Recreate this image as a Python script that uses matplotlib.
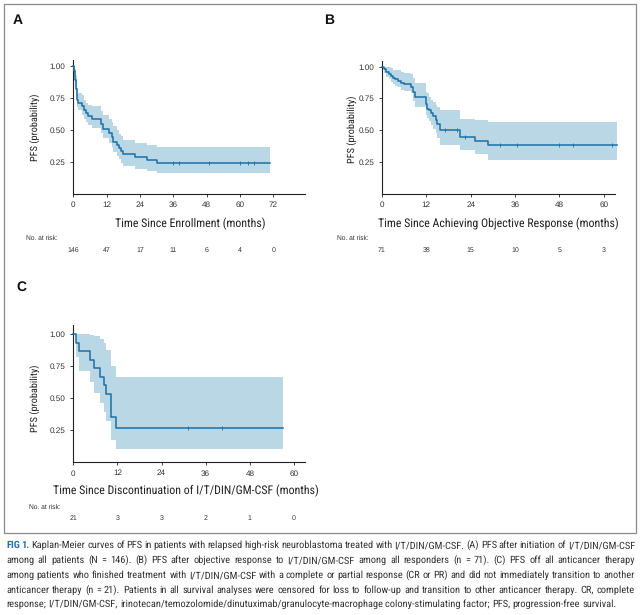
import matplotlib
matplotlib.use("Agg")
import matplotlib.pyplot as plt
from matplotlib import font_manager, transforms
from matplotlib.patches import Rectangle
from matplotlib.font_manager import FontProperties

# ---------------- data ----------------
# Panel A: PFS after initiation (N = 146)
times_A = [0, 0.25, 0.6, 1.0, 1.45, 1.8, 3.0, 3.8, 4.6, 5.4, 6.6, 9.8, 10.8, 13.0, 13.8,
           14.4, 15.6, 16.6, 17.0, 17.8, 22.2, 26.4, 30.3]
surv_A = [1.0, 0.96, 0.895, 0.82, 0.74, 0.715, 0.69, 0.66, 0.635, 0.61, 0.587, 0.55, 0.51,
          0.478, 0.446, 0.41, 0.386, 0.36, 0.335, 0.315, 0.288, 0.268, 0.245]
upper_A = [1.0, 1.0, 0.98, 0.93, 0.83, 0.79, 0.775, 0.74, 0.715, 0.70, 0.686, 0.65, 0.62,
           0.59, 0.56, 0.53, 0.50, 0.47, 0.45, 0.425, 0.40, 0.38, 0.365]
lower_A = [1.0, 0.92, 0.84, 0.76, 0.68, 0.655, 0.62, 0.59, 0.56, 0.54, 0.517, 0.48, 0.44,
           0.40, 0.37, 0.33, 0.30, 0.27, 0.24, 0.22, 0.195, 0.18, 0.165]
end_A = 70.8
censor_A = [36.0, 38.0, 49.0, 60.0, 63.0, 65.0]
ticks_A = [0, 12, 24, 36, 48, 60, 72]
risk_A = [146, 47, 17, 11, 6, 4, 0]

# Panel B: PFS after objective response (n = 71)
times_B = [0, 0.6, 1.2, 1.8, 2.4, 3.0, 3.6, 4.4, 5.2, 6.0, 7.8, 8.4, 9.0, 11.8, 12.2, 12.7,
           13.3, 13.9, 14.5, 15.0, 15.8, 21.1, 25.2, 28.7]
surv_B = [1.0, 0.985, 0.96, 0.945, 0.93, 0.915, 0.90, 0.885, 0.87, 0.865, 0.84, 0.80, 0.76,
          0.71, 0.67, 0.66, 0.635, 0.61, 0.58, 0.55, 0.50, 0.445, 0.415, 0.385]
upper_B = [1.0, 1.0, 1.0, 1.0, 0.99, 0.975, 0.975, 0.975, 0.96, 0.95, 0.945, 0.91, 0.875,
           0.80, 0.79, 0.76, 0.74, 0.725, 0.70, 0.68, 0.66, 0.585, 0.58, 0.565]
lower_B = [1.0, 0.95, 0.92, 0.90, 0.88, 0.86, 0.85, 0.84, 0.82, 0.81, 0.79, 0.73, 0.686,
           0.62, 0.595, 0.57, 0.543, 0.51, 0.48, 0.44, 0.386, 0.347, 0.31, 0.265]
end_B = 63.6
censor_B = [17.0, 20.4, 22.6, 32.0, 36.5, 47.8, 51.8, 62.3]
ticks_B = [0, 12, 24, 36, 48, 60]
risk_B = [71, 38, 15, 10, 5, 3]

# Panel C: PFS off all anticancer therapy (n = 21)
times_C = [0, 0.73, 1.6, 4.6, 5.7, 7.25, 8.4, 8.9, 10.2, 11.7]
surv_C = [1.0, 0.933, 0.867, 0.80, 0.733, 0.667, 0.60, 0.533, 0.356, 0.267]
upper_C = [1.0, 1.0, 1.0, 0.995, 0.99, 0.96, 0.93, 0.88, 0.75, 0.668]
lower_C = [1.0, 0.82, 0.71, 0.63, 0.54, 0.46, 0.39, 0.32, 0.17, 0.105]
end_C = 56.9
censor_C = [31.1, 40.3]
ticks_C = [0, 12, 24, 36, 48, 60]
risk_C = [21, 3, 3, 2, 1, 0]

yticks = [0.25, 0.50, 0.75, 1.00]
ytick_labels = ["0.25", "0.50", "0.75", "1.00"]

caption_lines = [
    "Kaplan-Meier curves of PFS in patients with relapsed high-risk neuroblastoma treated with I/T/DIN/GM-CSF. (A) PFS after initiation of I/T/DIN/GM-CSF",
    "among all patients (N = 146). (B) PFS after objective response to I/T/DIN/GM-CSF among all responders (n = 71). (C) PFS off all anticancer therapy",
    "among patients who finished treatment with I/T/DIN/GM-CSF with a complete or partial response (CR or PR) and did not immediately transition to another",
    "anticancer therapy (n = 21). Patients in all survival analyses were censored for loss to follow-up and transition to other anticancer therapy. CR, complete",
    "response; I/T/DIN/GM-CSF, irinotecan/temozolomide/dinutuximab/granulocyte-macrophage colony-stimulating factor; PFS, progression-free survival.",
]

# ---------------- fonts ----------------
names = {f.name for f in font_manager.fontManager.ttflist}
regular = "Liberation Sans" if "Liberation Sans" in names else "DejaVu Sans"
narrow = None
for cand in ["Liberation Sans Narrow", "Roboto Condensed", "DejaVu Sans Condensed", "Open Sans Condensed"]:
    if cand in names:
        narrow = cand
        break
if narrow is None:
    narrow = regular
plt.rcParams["font.family"] = [regular, "DejaVu Sans"]
plt.rcParams["text.hinting"] = "no_hinting"

LINE = "#1b6fa5"
BAND = "#bad7e6"
TXT = "#333333"

W, H = 641, 615
fig = plt.figure(figsize=(W / 100, H / 100), dpi=100)


def fx(px):
    return px / W


def fy(py):
    return 1 - py / H


def add_ax(x0, x1, y0, y1):
    return fig.add_axes([fx(x0), fy(y1), fx(x1) - fx(x0), (y1 - y0) / H])


def km_panel(ax, t, s, up, lo, end, cens, ticks, xmax, ymax):
    tt = list(t) + [end]
    ss = list(s) + [s[-1]]
    uu = list(up) + [up[-1]]
    ll = list(lo) + [lo[-1]]
    ax.fill_between(tt, ll, uu, step="post", color=BAND, lw=0, clip_on=False)
    ax.step(tt, ss, where="post", color=LINE, lw=1.1, clip_on=False, zorder=3)
    cy = [s[max(i for i, ti in enumerate(t) if ti <= c)] for c in cens]
    ax.plot(cens, cy, ls="none", marker="|", ms=2.5, mew=0.6, color=LINE, zorder=4)
    ax.set_xlim(0, xmax)
    ax.set_ylim(0, ymax)
    ax.set_xticks(ticks)
    ax.set_xticklabels([str(v) for v in ticks])
    ax.set_yticks(yticks)
    ax.set_yticklabels(ytick_labels)
    for sp in ["top", "right"]:
        ax.spines[sp].set_visible(False)
    for sp in ["left", "bottom"]:
        ax.spines[sp].set_color("#222222")
        ax.spines[sp].set_linewidth(0.8)
    ax.tick_params(axis="both", length=2.5, width=0.6, color="#222222",
                   labelsize=5.9, labelcolor=TXT, pad=3)


axA = add_ax(73.3, 305, 60, 193.8)
km_panel(axA, times_A, surv_A, upper_A, lower_A, end_A, censor_A, ticks_A, 83.4, 1.05)
axB = add_ax(382, 614.7, 61, 193.7)
km_panel(axB, times_B, surv_B, upper_B, lower_B, end_B, censor_B, ticks_B, 63.0, 1.045)
axC = add_ax(73.3, 305, 325, 462)
km_panel(axC, times_C, surv_C, upper_C, lower_C, end_C, censor_C, ticks_C, 63.0, 1.073)

# y labels
for (x, y) in [(35, 127), (352, 129), (35, 398)]:
    fig.text(fx(x), fy(y), "PFS (probability)", rotation=90, ha="center", va="center",
             fontsize=7.4, color="#222222", family=[narrow, "DejaVu Sans"])

# x labels
fig.text(fx(190), fy(224), "Time Since Enrollment (months)", ha="center", va="center",
         fontsize=8.6, color="#222222", family=[narrow, "DejaVu Sans"])
fig.text(fx(498), fy(224), "Time Since Achieving Objective Response (months)", ha="center",
         va="center", fontsize=8.6, color="#222222", family=[narrow, "DejaVu Sans"])
fig.text(fx(186), fy(491), "Time Since Discontinuation of I/T/DIN/GM-CSF (months)", ha="center",
         va="center", fontsize=8.6, color="#222222", family=[narrow, "DejaVu Sans"])

# numbers at risk
for ax, ticks, risk, xl, yl, yn in [(axA, ticks_A, risk_A, 26, 238, 250),
                                    (axB, ticks_B, risk_B, 337, 238, 250),
                                    (axC, ticks_C, risk_C, 29, 507, 518)]:
    fig.text(fx(xl), fy(yl), "No. at risk:", ha="left", va="center", fontsize=4.8, color=TXT)
    tr = transforms.blended_transform_factory(ax.transData, fig.transFigure)
    for t, r in zip(ticks, risk):
        ax.text(t, fy(yn), str(r), transform=tr, ha="center", va="center", fontsize=5.0,
                color=TXT, clip_on=False)

# panel letters
for (x, y, lab) in [(12.5, 20, "A"), (324, 20, "B"), (16.5, 287, "C")]:
    fig.text(fx(x), fy(y), lab, ha="left", va="center", fontsize=10, fontweight="bold",
             color="#111111", family=["Liberation Sans", "DejaVu Sans"])

# border box
fig.add_artist(Rectangle((fx(4), fy(533)), fx(636) - fx(4), (533 - 4) / H, transform=fig.transFigure,
                         fill=False, edgecolor="#8a8a8a", lw=0.9))

# caption (justified word by word)
fig.canvas.draw()
renderer = fig.canvas.get_renderer()
left, right = 6.0, 635.0
baselines = [548, 563, 578, 593, 607]


def wlen(s, prop):
    w, h, d = renderer.get_text_width_height_descent(s, prop, ismath=False)
    return w


cap_fs = 7.6
for _ in range(4):
    p = FontProperties(family=narrow, size=cap_fs)
    nat = max(wlen(l, p) for l in caption_lines[1:4])
    cap_fs = cap_fs * (right - left - 6) / nat
prop_txt = FontProperties(family=narrow, size=cap_fs)
prop_fig = FontProperties(family=narrow, size=cap_fs, weight="bold")


def split_words(line):
    out = []
    for w in line.split(" "):
        # a word whose only descender is ';' is kept with the previous word
        if out and w.endswith(";") and not any(ch in w for ch in "gjpqy(),/"):
            out[-1] = out[-1] + " " + w
        else:
            out.append(w)
    return out


for i, (line, yy) in enumerate(zip(caption_lines, baselines)):
    words = split_words(line)
    items = [(w, prop_txt, TXT) for w in words]
    if i == 0:
        items = [("FIG", prop_fig, "#2a6db5"), ("1.", prop_fig, "#2a6db5")] + items
    widths = [wlen(w, p) for (w, p, c) in items]
    space = wlen("a a", prop_txt) - 2 * wlen("a", prop_txt)
    if i < len(caption_lines) - 1:
        gap = (right - left - sum(widths)) / (len(items) - 1)
    else:
        gap = space
    x = left
    for (w, p, c), wd in zip(items, widths):
        fig.text(fx(x), fy(yy), w, fontproperties=p, color=c, ha="left", va="baseline")
        x += wd + gap

fig.savefig("out.png", dpi=100)
